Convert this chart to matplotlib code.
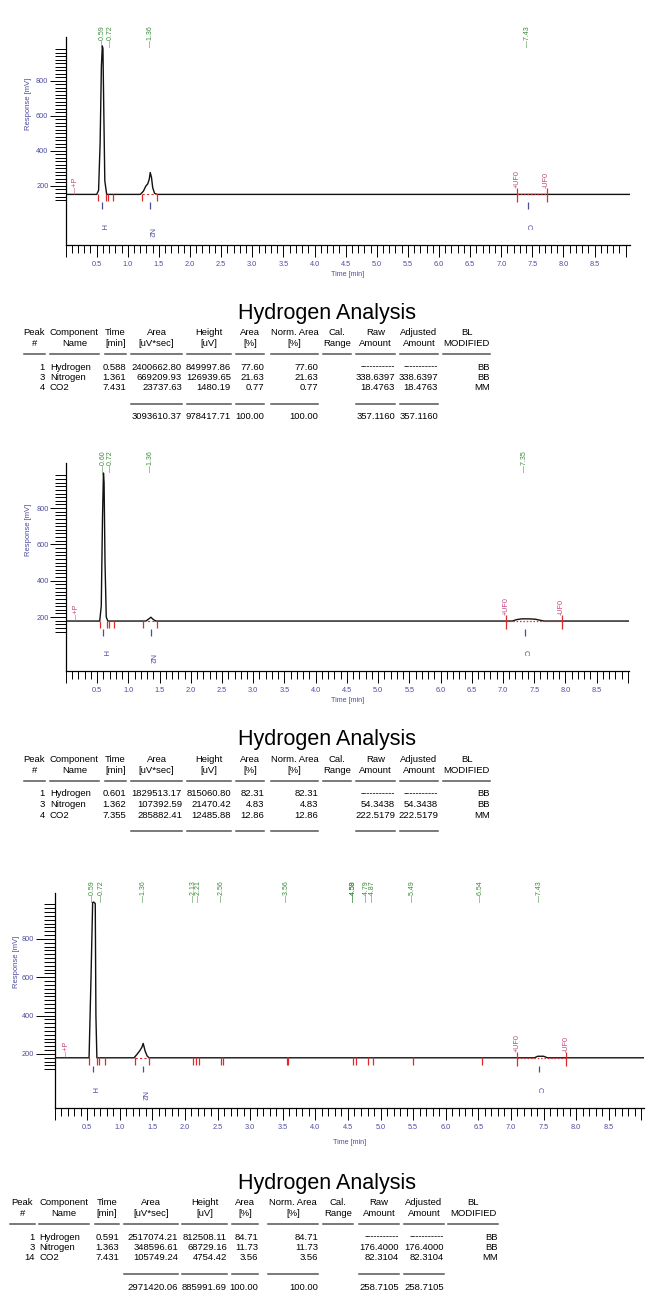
import matplotlib
matplotlib.use("Agg")
import matplotlib.pyplot as plt
from matplotlib.lines import Line2D
from matplotlib.ticker import FixedLocator, MultipleLocator, FuncFormatter

plt.rcParams['font.family'] = ['Liberation Sans', 'DejaVu Sans']

W, H = 649, 1300

# ---------------- chromatogram data (time in min, response in mV) ----------------
run1_time = [0.00, 0.50, 0.53, 0.555, 0.575, 0.59, 0.60, 0.615, 0.63, 0.66,
             1.20, 1.25, 1.29, 1.32, 1.345, 1.36, 1.38, 1.40, 1.43, 1.47, 9.10]
run1_mv = [152, 152, 175, 450, 880, 1000, 985, 600, 230, 152,
           152, 170, 200, 212, 240, 277, 250, 190, 158, 152, 152]
run1_base = 152
run1_rt = [0.59, 0.72, 1.36, 7.43]
run1_rt_text = ["0.59", "0.72", "1.36", "7.43"]
run1_peaks = [0.59, 1.36, 7.43]
run1_marks = [0.52, 0.645, 0.68, 0.76, 1.22, 1.47]
run1_events = [0.16, 7.26, 7.73]
run1_n2_span = [1.22, 1.47]

run2_time = [0.00, 0.54, 0.565, 0.585, 0.60, 0.61, 0.625, 0.645, 0.67,
             1.28, 1.32, 1.36, 1.40, 1.44,
             7.15, 7.22, 7.30, 7.42, 7.52, 7.60, 7.66, 9.10]
run2_mv = [178, 178, 260, 750, 993, 940, 500, 200, 178,
           178, 188, 199, 186, 178,
           178, 186, 190, 190, 188, 182, 178, 178]
run2_base = 178
run2_rt = [0.60, 0.72, 1.36, 7.35]
run2_rt_text = ["0.60", "0.72", "1.36", "7.35"]
run2_peaks = [0.60, 1.36, 7.35]
run2_marks = [0.55, 0.66, 0.69, 0.77, 1.24, 1.45]
run2_events = [0.17, 7.05, 7.94]
run2_n2_span = [1.24, 1.45]

run3_time = [0.00, 0.53, 0.56, 0.585, 0.60, 0.625, 0.635, 0.65,
             1.22, 1.27, 1.31, 1.34, 1.36, 1.39, 1.42, 1.45,
             7.36, 7.41, 7.50, 7.56, 9.10]
run3_mv = [180, 180, 600, 990, 993, 985, 400, 180,
           180, 200, 218, 235, 255, 215, 190, 180,
           180, 188, 188, 180, 180]
run3_base = 180
run3_rt = [0.59, 0.72, 1.36, 2.13, 2.21, 2.56, 3.56, 4.58, 4.59, 4.79, 4.87, 5.49, 6.54, 7.43]
run3_rt_text = ["0.59", "0.72", "1.36", "2.13", "2.21", "2.56", "3.56", "4.58", "4.59",
                "4.79", "4.87", "5.49", "6.54", "7.43"]
run3_peaks = [0.59, 1.36, 7.43]
run3_marks = [0.53, 0.65, 0.68, 0.77, 1.23, 1.45, 2.12, 2.17, 2.21, 2.56, 2.58,
              3.56, 3.58, 4.58, 4.62, 4.81, 4.89, 5.50, 6.56]
run3_events = [0.18, 7.09, 7.85]
run3_n2_span = [1.23, 1.45]

peak_names = ["H", "N2", "C"]
event_names = ["\u2014+P", "+UF0", "-UF0"]

# ---------------- result tables ----------------
header1 = ["Peak", "Component", "Time", "Area", "Height", "Area", "Norm. Area", "Cal.", "Raw", "Adjusted", "BL"]
header2 = ["#", "Name", "[min]", "[uV*sec]", "[uV]", "[%]", "[%]", "Range", "Amount", "Amount", "MODIFIED"]
DASH = "-" * 11

table1_rows = [
    ["1", "Hydrogen", "0.588", "2400662.80", "849997.86", "77.60", "77.60", "", DASH, DASH, "BB"],
    ["3", "Nitrogen", "1.361", "669209.93", "126939.65", "21.63", "21.63", "", "338.6397", "338.6397", "BB"],
    ["4", "CO2", "7.431", "23737.63", "1480.19", "0.77", "0.77", "", "18.4763", "18.4763", "MM"],
]
table1_total = ["", "", "", "3093610.37", "978417.71", "100.00", "100.00", "", "357.1160", "357.1160", ""]

table2_rows = [
    ["1", "Hydrogen", "0.601", "1829513.17", "815060.80", "82.31", "82.31", "", DASH, DASH, "BB"],
    ["3", "Nitrogen", "1.362", "107392.59", "21470.42", "4.83", "4.83", "", "54.3438", "54.3438", "BB"],
    ["4", "CO2", "7.355", "285882.41", "12485.88", "12.86", "12.86", "", "222.5179", "222.5179", "MM"],
]
table2_total = None

table3_rows = [
    ["1", "Hydrogen", "0.591", "2517074.21", "812508.11", "84.71", "84.71", "", DASH, DASH, "BB"],
    ["3", "Nitrogen", "1.363", "348596.61", "68729.16", "11.73", "11.73", "", "176.4000", "176.4000", "BB"],
    ["14", "CO2", "7.431", "105749.24", "4754.42", "3.56", "3.56", "", "82.3104", "82.3104", "MM"],
]
table3_total = ["", "", "", "2971420.06", "885991.69", "100.00", "100.00", "", "258.7105", "258.7105", ""]

# colours
GREEN = "#3a8a3a"
MAGENTA = "#c8407f"
RED = "#dd2a2a"
BLUE = "#4d4d9e"
LINE = "#555555"


def px_box(left, top, right, bottom):
    return [left / W, 1 - bottom / H, (right - left) / W, (bottom - top) / H]


def ftext(fig, x, y, s, **kw):
    fig.text(x / W, 1 - y / H, s, **kw)


def hline(fig, x1, x2, y, lw=1.1, color=LINE):
    fig.add_artist(Line2D([x1 / W, x2 / W], [1 - y / H, 1 - y / H],
                          transform=fig.transFigure, color=color, lw=lw))


def draw_run(fig, run, lay):
    l, t, r, b = lay["box"]
    ax = fig.add_axes(px_box(l, t, r, b))
    ylo, yhi = lay["ylim"]
    ax.set_xlim(0, lay["xmax"])
    ax.set_ylim(ylo, yhi)
    u = (yhi - ylo) / (b - t)  # mV per pixel
    base = run["base"]

    for s in ("top", "right"):
        ax.spines[s].set_visible(False)
    for s in ("left", "bottom"):
        ax.spines[s].set_linewidth(0.9)

    ax.plot(run["time"], run["mv"], color="#111111", lw=1.0, zorder=3)

    # baseline segments drawn by integration
    ax.plot(run["n2"], [base, base], color=RED, lw=0.8, ls=(0, (2, 2)), zorder=4)
    ax.plot(run["events"][1:], [base, base], color=RED, lw=0.9, ls=(0, (1.2, 1.5)), zorder=4)

    # peak start/stop marks
    ax.vlines(run["marks"], base - 7 * u, base + 0.5 * u, color=RED, lw=0.9, zorder=4)

    # retention time labels
    for tt, txt in zip(run["rt"], run["rt_text"]):
        ax.text(tt, yhi - 9.5 * u, "\u2014" + txt, rotation=90, ha="center", va="bottom",
                color=GREEN, fontsize=5, clip_on=False)

    # identified peaks
    offsets = {"H": 32, "N2": 38, "C": 32}
    ax.vlines(run["peaks"], base - 14.5 * u, base - 8 * u, color=BLUE, lw=0.9)
    for tt, nm in zip(run["peaks"], peak_names):
        ax.text(tt, base - offsets[nm] * u, nm, rotation=270, ha="center", va="center",
                color=BLUE, fontsize=5.5)

    # timed events
    ev = run["events"]
    ax.text(ev[0], base, event_names[0], rotation=90, ha="center", va="bottom",
            color=MAGENTA, fontsize=5.2)
    for tt, nm in zip(ev[1:], event_names[1:]):
        ax.vlines(tt, base - 8 * u, base + 6 * u, color=RED, lw=0.9, zorder=5)
        ax.text(tt, base + 6 * u, nm, rotation=90, ha="center", va="bottom",
                color=MAGENTA, fontsize=5.2)

    # axes ticks
    ax.xaxis.set_major_locator(MultipleLocator(0.5))
    ax.xaxis.set_minor_locator(MultipleLocator(0.1))
    ax.xaxis.set_major_formatter(FuncFormatter(lambda v, p: f"{v:.1f}" if 0.25 < v < 8.75 else ""))
    ax.tick_params(axis="x", which="major", length=8.6, width=0.7, pad=3.2,
                   labelsize=5.3, labelcolor=BLUE)
    ax.tick_params(axis="x", which="minor", length=5.8, width=0.7)

    ax.yaxis.set_major_locator(FixedLocator([200, 400, 600, 800]))
    ax.yaxis.set_minor_locator(FixedLocator([v for v in range(120, 1001, 20) if v % 200]))
    ax.tick_params(axis="y", which="major", length=lay["ytick"] * 0.72, width=0.7, pad=0.8,
                   labelsize=5.3, labelcolor=BLUE)
    ax.tick_params(axis="y", which="minor", length=7.9, width=0.7)

    yx, yy = lay["ylabel"]
    ftext(fig, yx, yy, "Response [mV]", rotation=90, ha="center", va="center",
          color=BLUE, fontsize=5.5)
    ftext(fig, (l + r) / 2, lay["xlabel_y"], "Time [min]", ha="center", va="center",
          color=BLUE, fontsize=5.1)


def draw_table(fig, top, cols, rows, total):
    fs = 6.8
    ftext(fig, 327, top, "Hydrogen Analysis", ha="center", va="center", fontsize=15.5)
    for i, (x1, x2) in enumerate(cols):
        xc = (x1 + x2) / 2
        ftext(fig, xc, top + 19.5, header1[i], ha="center", va="center", fontsize=fs)
        ftext(fig, xc, top + 30.5, header2[i], ha="center", va="center", fontsize=fs)
        hline(fig, x1, x2, top + 40.5, lw=1.1)
    for k, row in enumerate(rows):
        y = top + 54 + 10.5 * k
        for i, cell in enumerate(row):
            x1, x2 = cols[i]
            if i == 1:
                ftext(fig, x1, y, cell, ha="left", va="center", fontsize=fs)
            else:
                ftext(fig, x2, y, cell, ha="right", va="center", fontsize=fs)
    for i in (3, 4, 5, 6, 8, 9):
        hline(fig, cols[i][0], cols[i][1], top + 90.5, lw=1.1)
    if total is not None:
        for i, cell in enumerate(total):
            if cell:
                ftext(fig, cols[i][1], top + 104, cell, ha="right", va="center", fontsize=fs)


fig = plt.figure(figsize=(W / 100, H / 100), dpi=100)
fig.patch.set_facecolor("white")

runs = [
    dict(time=run1_time, mv=run1_mv, base=run1_base, rt=run1_rt, rt_text=run1_rt_text,
         peaks=run1_peaks, marks=run1_marks, events=run1_events, n2=run1_n2_span),
    dict(time=run2_time, mv=run2_mv, base=run2_base, rt=run2_rt, rt_text=run2_rt_text,
         peaks=run2_peaks, marks=run2_marks, events=run2_events, n2=run2_n2_span),
    dict(time=run3_time, mv=run3_mv, base=run3_base, rt=run3_rt, rt_text=run3_rt_text,
         peaks=run3_peaks, marks=run3_marks, events=run3_events, n2=run3_n2_span),
]
layouts = [
    dict(box=(65.6, 37, 630, 245), xmax=9.07, ylim=(-137, 1051), ytick=16, ylabel=(29, 104), xlabel_y=275),
    dict(box=(66, 463, 629, 671), xmax=9.02, ylim=(-97, 1048), ytick=16, ylabel=(29, 530), xlabel_y=700),
    dict(box=(54.5, 893, 644, 1108), xmax=9.04, ylim=(-82, 1040), ytick=19, ylabel=(16, 962), xlabel_y=1142),
]
for run, lay in zip(runs, layouts):
    draw_run(fig, run, lay)

cols_a = [(24, 45), (50, 99), (105, 126), (131, 182), (187, 231), (236, 264),
          (271, 318), (323, 351), (356, 395), (400, 438), (443, 490)]
cols_b = [(10, 35), (39, 89), (95, 119), (124, 178), (182, 227), (232, 258),
          (268, 318), (323, 353), (359, 399), (404, 444), (448, 498)]

draw_table(fig, 313, cols_a, table1_rows, table1_total)
draw_table(fig, 740, cols_a, table2_rows, table2_total)
draw_table(fig, 1183, cols_b, table3_rows, table3_total)

fig.savefig("out.png", dpi=100, facecolor="white")
